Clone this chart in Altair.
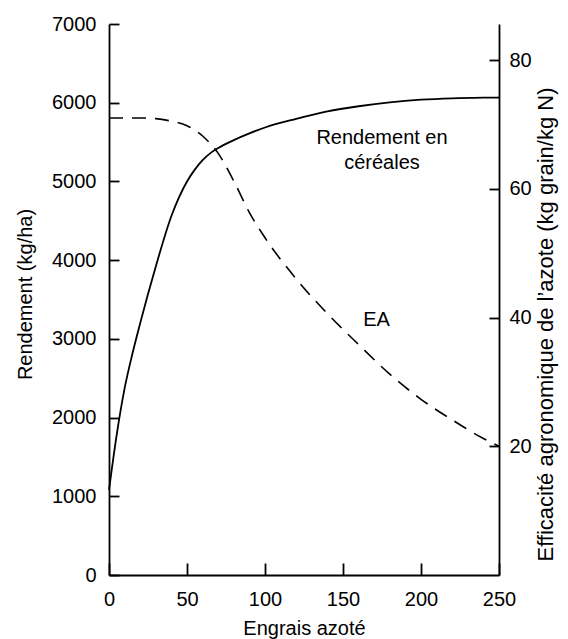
import altair as alt
import pandas as pd

# --- data ---
n_x = [0, 5, 10, 15, 20, 25, 30, 40, 50, 55, 60, 65, 70, 80, 90, 100, 120, 140, 160, 180, 200, 220, 240, 250]
yield_kg = [1080, 1790, 2370, 2810, 3200, 3570, 3920, 4560, 5000, 5150, 5270, 5360, 5425, 5525,
            5610, 5685, 5795, 5890, 5955, 6005, 6038, 6056, 6064, 6066]

ea_x = [0, 10, 20, 30, 40, 50, 60, 70, 80, 90, 100, 120, 140, 160, 180, 200, 220, 240, 250]
ea_vals = [71, 71, 71, 70.9, 70.5, 69.8, 68.2, 65.5, 61.2, 56.3, 52.4, 46, 40.6, 35.8, 31.2,
           27.3, 24.1, 21.2, 20]

left_ticks = [0, 1000, 2000, 3000, 4000, 5000, 6000, 7000]
right_ticks = [20, 40, 60, 80]
x_ticks = [0, 50, 100, 150, 200, 250]

label_rend = ["Rendement en", "céréales"]
label_rend_pos = (175, 5550)
label_ea = "EA"
label_ea_pos = (171.5, 3240)

W, H = 390, 551
FONT = "Liberation Sans"
FS = 20

yield_df = pd.DataFrame({"x": n_x, "v": yield_kg})
ea_df = pd.DataFrame({"x": ea_x, "v": ea_vals})

xscale = alt.Scale(domain=[0, 250], nice=False)
yl_scale = alt.Scale(domain=[0, 7000], nice=False)
yr_scale = alt.Scale(domain=[0, 85.6], nice=False)

# negative tick sizes (inward ticks) given as expressions; label padding compensates
x_axis = alt.Axis(values=x_ticks, tickSize={"expr": "-12"}, labelPadding=26, grid=False, orient="bottom",
                  format="d", labelFlush=False, labelOverlap=False,
                  title="Engrais azoté", titleX=W / 2, titleY=53,
                  titleAlign="center", titleBaseline="middle", titleAngle=0)
yl_axis = alt.Axis(values=left_ticks, tickSize={"expr": "-10"}, labelPadding=23, grid=False, orient="left",
                   format="d", labelFlush=False, labelOverlap=False,
                   title="Rendement (kg/ha)", titleX=-84, titleY=270, titleAngle=270,
                   titleAlign="center", titleBaseline="middle")
yr_axis = alt.Axis(values=right_ticks, tickSize={"expr": "-10"}, labelPadding=20, grid=False, orient="right",
                   format="d", labelFlush=False, labelOverlap=False,
                   title="Efficacité agronomique de l’azote (kg grain/kg N)",
                   titleFontSize=22,
                   titleX=46, titleY=300, titleAngle=270,
                   titleAlign="center", titleBaseline="middle")

X = alt.X("x:Q", scale=xscale, axis=x_axis)
YL = alt.Y("v:Q", scale=yl_scale, axis=yl_axis)
YR = alt.Y("v:Q", scale=yr_scale, axis=yr_axis)

yield_line = alt.Chart(yield_df).mark_line(color="black", strokeWidth=1.8, interpolate="monotone").encode(
    x=X, y=YL,
)

rend_txt = alt.Chart(pd.DataFrame({"x": [label_rend_pos[0]], "v": [label_rend_pos[1]],
                                   "t": [label_rend]})).mark_text(
    font=FONT, fontSize=FS, color="black", align="center", baseline="middle", lineHeight=25
).encode(x=X, y=YL, text="t")

ea_txt = alt.Chart(pd.DataFrame({"x": [label_ea_pos[0]], "v": [label_ea_pos[1]],
                                 "t": [label_ea]})).mark_text(
    font=FONT, fontSize=FS, color="black", align="center", baseline="middle"
).encode(x=X, y=YL, text="t:N")

ea_line = alt.Chart(ea_df).mark_line(color="black", strokeWidth=1.6, strokeDash=[14, 9],
                                     interpolate="monotone").encode(x=X, y=YR)

left = alt.layer(yield_line, rend_txt, ea_txt)

chart = alt.layer(left, ea_line).resolve_scale(y="independent").properties(
    width=W, height=H,
    autosize=alt.AutoSizeParams(type="none"),
    padding={"left": 101, "top": 16, "right": 61, "bottom": 64},
).configure_view(stroke=None).configure_axis(
    labelFont=FONT, labelFontSize=FS, labelColor="black",
    titleFont=FONT, titleFontSize=FS, titleColor="black", titleFontWeight="normal",
    domainColor="black", domainWidth=1.8, tickColor="black", tickWidth=1.8,
)

chart.save("out.html", embed_options={"renderer": "svg", "actions": False})
